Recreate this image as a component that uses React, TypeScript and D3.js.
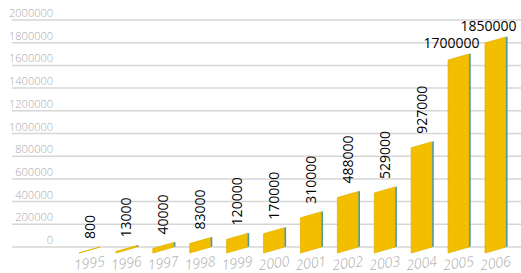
import React, { useEffect, useRef } from "react";
import * as d3 from "d3";

// data
const years = ["1995", "1996", "1997", "1998", "1999", "2000", "2001", "2002", "2003", "2004", "2005", "2006"];
const values = [800, 13000, 40000, 83000, 120000, 170000, 310000, 488000, 529000, 927000, 1700000, 1850000];
const yTicks = [0, 200000, 400000, 600000, 800000, 1000000, 1200000, 1400000, 1600000, 1800000, 2000000];

export default function App() {
  const ref = useRef<SVGSVGElement>(null);

  useEffect(() => {
    const svg = d3.select(ref.current);
    svg.selectAll("*").remove();

    const width = 521;
    const skew = 6; // bars lean, left side sits lower
    const frontW = 21;
    const sideW = 1.6;

    var y = d3.scaleLinear().domain([0, 2000000]).range([247, 20]);
    var x = d3.scaleBand()
      .domain(years)
      .range([79, 508])
      .paddingInner(0.377)
      .paddingOuter(0);

    // gridlines + tick labels
    const grid = svg.append("g");
    grid.selectAll("line")
      .data(yTicks)
      .enter()
      .append("line")
      .attr("x1", 12)
      .attr("x2", width)
      .attr("y1", d => y(d))
      .attr("y2", d => y(d))
      .attr("stroke", "#d6d6d6")
      .attr("stroke-width", 1.5);
    grid.selectAll("text")
      .data(yTicks)
      .enter()
      .append("text")
      .attr("x", 53)
      .attr("y", d => y(d) - 3)
      .attr("text-anchor", "end")
      .style("font-family", "'Open Sans', sans-serif")
      .style("font-size", "11px")
      .style("font-weight", 300)
      .attr("fill", "#a8a8a8")
      .text(d => d);

    const data = years.map((yr, i) => ({ year: yr, value: values[i] }));
    const y0 = y(0);

    // bars: front face (stroked so the tiny ones still show as a line)
    svg.append("g").selectAll("polygon")
      .data(data)
      .enter()
      .append("polygon")
      .attr("points", d => {
        const x0 = x(d.year)!;
        const yt = y(d.value);
        return [[x0, y0 + skew], [x0 + frontW, y0], [x0 + frontW, yt], [x0, yt + skew]].join(" ");
      })
      .attr("fill", "#f3bd00")
      .attr("stroke", "#e2b400")
      .attr("stroke-width", 0.8)
      .attr("stroke-linejoin", "round");

    // bars: thin side face
    svg.append("g").selectAll("polygon")
      .data(data)
      .enter()
      .append("polygon")
      .attr("points", d => {
        const x0 = x(d.year)! + frontW;
        const yt = y(d.value);
        return [[x0, y0], [x0 + sideW, y0 - 0.5], [x0 + sideW, yt - 0.5], [x0, yt]].join(" ");
      })
      .attr("fill", "#4f9a92");

    // value labels: vertical unless they run off the top
    const labels = svg.append("g")
      .style("font-family", "'Open Sans', sans-serif")
      .style("font-size", "14px")
      .attr("fill", "#000");
    data.forEach(d => {
      const cx = x(d.year)! + frontW / 2;
      const yt = y(d.value);
      const len = String(d.value).length * 8;
      if (yt - 7 - len < 0) {
        labels.append("text")
          .attr("x", cx - 7)
          .attr("y", yt - 6)
          .attr("text-anchor", "middle")
          .text(d.value);
      } else {
        labels.append("text")
          .attr("transform", "translate(" + (cx + 5) + "," + (yt - 8) + ") rotate(-90)")
          .attr("text-anchor", "start")
          .text(d.value);
      }
    });

    // x labels, slanted
    svg.append("g").selectAll("text")
      .data(years)
      .enter()
      .append("text")
      .attr("transform", d => "translate(" + (x(d)! + 11) + ",268) rotate(-8)")
      .attr("text-anchor", "middle")
      .style("font-family", "'Open Sans', sans-serif")
      .style("font-size", "14px")
      .style("font-style", "italic")
      .style("font-weight", 300)
      .attr("fill", "#aaaaaa")
      .text(d => d);
  }, []);

  return (
    <svg ref={ref} width={521} height={273}
      style={{ position: "absolute", left: 0, top: 0, background: "#fff" }} />
  );
}
